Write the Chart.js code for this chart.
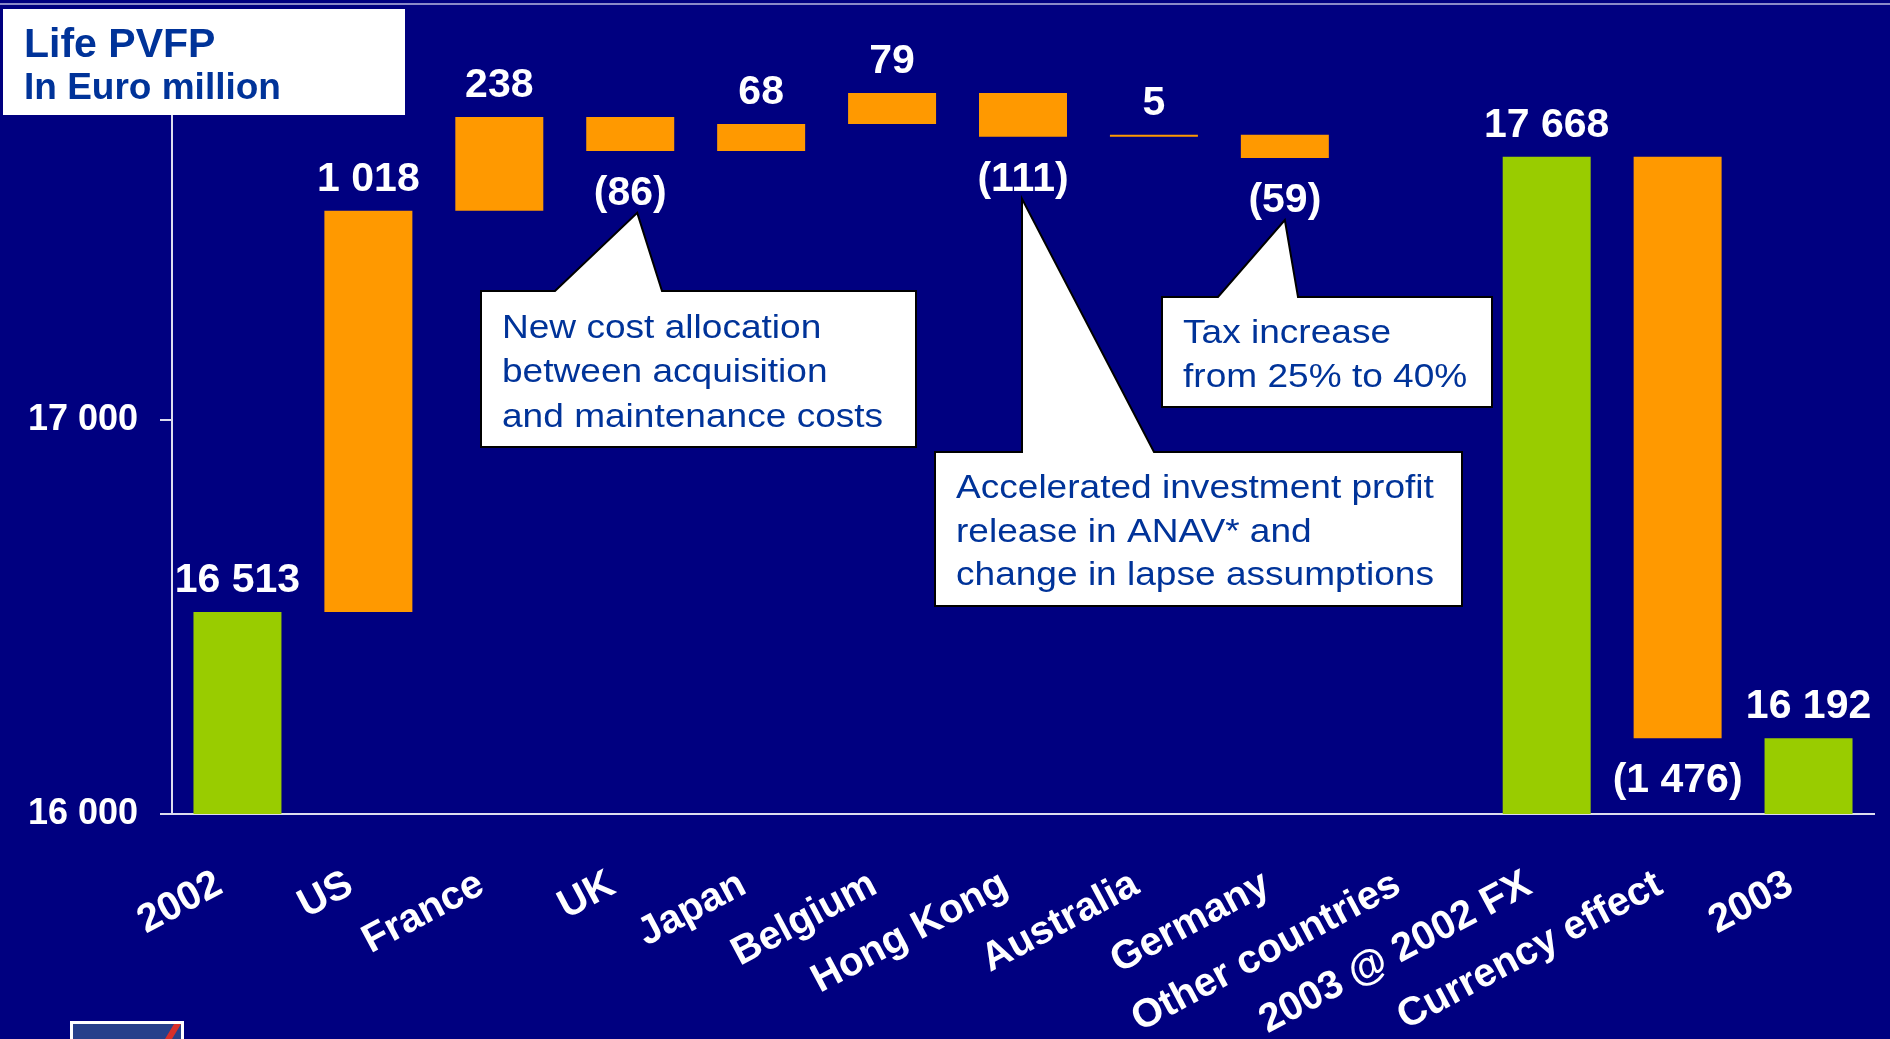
<!DOCTYPE html>
<html>
<head>
<meta charset="utf-8">
<script src="https://cdn.jsdelivr.net/npm/chart.js@4.4.0/dist/chart.umd.min.js"></script>
<style>
html,body{margin:0;padding:0;background:#000080;overflow:hidden}
#wrap{position:relative;width:1890px;height:1039px}
canvas{display:block}
</style>
</head>
<body>
<div id="wrap"><canvas id="c" width="1890" height="1039"></canvas></div>
<script>
// ---- data ----
const categories = ['2002','US','France','UK','Japan','Belgium','Hong Kong','Australia','Germany','Other countries','2003 @ 2002 FX','Currency effect','2003'];
const startValue = 16513;                                   // 2002
const countryDeltas = [1018, 238, -86, 68, 79, -111, 5, -59, 0]; // US .. Other countries (no visible bar)
const totalAt2002FX = 17668;                                 // 2003 @ 2002 FX
const currencyEffect = -1476;
const endValue = 16192;                                      // 2003
const valueLabels = ['16 513','1 018','238','(86)','68','79','(111)','5','(59)','','17 668','(1 476)','16 192'];
const yTickValues = [16000, 17000, 18000];
const titleLines = ['Life PVFP', 'In Euro million'];
const calloutTexts = [
  ['New cost allocation','between acquisition','and maintenance costs'],
  ['Accelerated investment profit','release in ANAV* and','change in lapse assumptions'],
  ['Tax increase','from 25% to 40%']
];

// ---- build the waterfall from the values ----
const yMin = yTickValues[0], yMax = yTickValues[yTickValues.length-1];
const bars = [], kinds = [];
bars.push([yMin, startValue]); kinds.push('total');
let run = startValue;
countryDeltas.forEach(d => { bars.push([run, run + d]); kinds.push(d < 0 ? 'neg' : 'pos'); run += d; });
bars.push([yMin, totalAt2002FX]); kinds.push('total');
bars.push([totalAt2002FX, totalAt2002FX + currencyEffect]); kinds.push('neg');
bars.push([yMin, endValue]); kinds.push('total');

const GREEN = '#99CC00', ORANGE = '#FF9900';
const AXIS = '#dcdcee';
const FONT = "'Liberation Sans', Arial, Helvetica, sans-serif";
const BLUE_TXT = '#003399';

function fmt(v){ return String(v).replace(/\B(?=(\d{3})+(?!\d))/g, ' '); }

const bgPlugin = {
  id: 'bg',
  beforeDraw(chart){
    const ctx = chart.ctx;
    ctx.save();
    ctx.fillStyle = '#000080';
    ctx.fillRect(0, 0, chart.width, chart.height);
    ctx.restore();
  }
};

const labelPlugin = {
  id: 'vlabels',
  afterDatasetsDraw(chart){
    const ctx = chart.ctx;
    const meta = chart.getDatasetMeta(0);
    ctx.save();
    ctx.fillStyle = '#ffffff';
    ctx.font = 'bold 41px ' + FONT;
    ctx.textAlign = 'center';
    ctx.textBaseline = 'alphabetic';
    meta.data.forEach((el, i) => {
      const t = valueLabels[i];
      if (!t) return;
      const top = Math.min(el.y, el.base), bottom = Math.max(el.y, el.base);
      if (kinds[i] === 'neg') ctx.fillText(t, el.x, bottom + 54);
      else ctx.fillText(t, el.x, top - 20);
    });
    ctx.restore();
  }
};

// callout boxes (annotation layout), pointers anchored to the bars
const callouts = [
  { bar: 3, dx: 7,  box: [481, 291, 435, 156], base: [555, 662],  tx: 502,  ty: [338, 382, 427] },
  { bar: 6, dx: -1, box: [935, 452, 527, 154], base: [1022, 1154], tx: 956, ty: [498, 542, 585] },
  { bar: 8, dx: 0,  box: [1162, 297, 330, 110], base: [1218, 1298], tx: 1183, ty: [343, 387] }
];

const overlayPlugin = {
  id: 'overlay',
  afterDraw(chart){
    const ctx = chart.ctx;
    const meta = chart.getDatasetMeta(0);
    ctx.save();
    // thin line at top
    ctx.strokeStyle = '#8a8ac8';
    ctx.lineWidth = 2;
    ctx.beginPath(); ctx.moveTo(0, 4); ctx.lineTo(chart.width, 4); ctx.stroke();

    // title box
    ctx.fillStyle = '#ffffff';
    ctx.fillRect(3, 9, 402, 106);
    ctx.fillStyle = BLUE_TXT;
    ctx.textAlign = 'left';
    ctx.textBaseline = 'alphabetic';
    ctx.font = 'bold 41px ' + FONT;
    ctx.fillText(titleLines[0], 24, 57);
    ctx.font = 'bold 37px ' + FONT;
    ctx.fillText(titleLines[1], 24, 99);

    // callouts
    callouts.forEach((c, k) => {
      const el = meta.data[c.bar];
      const bottom = Math.max(el.y, el.base);
      const ax = el.x + c.dx, ay = bottom + 62;
      const [bx, by, bw, bh] = c.box;
      ctx.beginPath();
      ctx.moveTo(bx, by);
      ctx.lineTo(c.base[0], by);
      ctx.lineTo(ax, ay);
      ctx.lineTo(c.base[1], by);
      ctx.lineTo(bx + bw, by);
      ctx.lineTo(bx + bw, by + bh);
      ctx.lineTo(bx, by + bh);
      ctx.closePath();
      ctx.fillStyle = '#ffffff';
      ctx.fill();
      ctx.strokeStyle = '#000000';
      ctx.lineWidth = 2;
      ctx.lineJoin = 'miter';
      ctx.stroke();
      ctx.fillStyle = BLUE_TXT;
      ctx.font = '34px ' + FONT;
      calloutTexts[k].forEach((line, j) => {
        ctx.save();
        ctx.translate(c.tx, c.ty[j]);
        ctx.scale(1.09, 1);
        ctx.fillText(line, 0, 0);
        ctx.restore();
      });
    });

    // logo fragment bottom-left
    ctx.fillStyle = '#27408b';
    ctx.fillRect(71, 1022, 112, 30);
    ctx.strokeStyle = '#ffffff';
    ctx.lineWidth = 3;
    ctx.strokeRect(71.5, 1022.5, 111, 30);
    ctx.fillStyle = '#d9302a';
    ctx.beginPath();
    ctx.moveTo(174, 1024); ctx.lineTo(181, 1024); ctx.lineTo(172, 1039); ctx.lineTo(165, 1039);
    ctx.closePath(); ctx.fill();
    ctx.restore();
  }
};

new Chart(document.getElementById('c'), {
  type: 'bar',
  data: {
    labels: categories,
    datasets: [{
      data: bars,
      backgroundColor: kinds.map(k => k === 'total' ? GREEN : ORANGE),
      borderWidth: 0,
      categoryPercentage: 1.0,
      barPercentage: 0.672
    }]
  },
  options: {
    responsive: false,
    animation: false,
    devicePixelRatio: 1,
    layout: { padding: { top: 26, right: 16, left: 0, bottom: 0 } },
    plugins: { legend: { display: false }, tooltip: { enabled: false }, title: { display: false } },
    scales: {
      x: {
        offset: true,
        grid: { display: false, drawTicks: false },
        border: { display: true, color: AXIS, width: 2 },
        ticks: {
          color: '#ffffff',
          font: { family: FONT, size: 40, weight: 'bold' },
          minRotation: 28, maxRotation: 28,
          autoSkip: false,
          padding: 47,
          labelOffset: -18
        },
        afterFit(s){ s.height = 225; s.paddingLeft = 0; s.paddingRight = 0; }
      },
      y: {
        min: yMin, max: yMax,
        afterBuildTicks(s){ s.ticks = yTickValues.map(v => ({ value: v })); },
        ticks: {
          color: '#ffffff',
          font: { family: FONT, size: 36, weight: 'bold' },
          padding: 22,
          callback: v => fmt(v)
        },
        grid: { drawOnChartArea: false, drawTicks: true, tickLength: 12, color: AXIS, lineWidth: 2 },
        border: { display: true, color: AXIS, width: 2 },
        afterFit(s){ s.width = 172; s.paddingTop = 0; s.paddingBottom = 0; }
      }
    }
  },
  plugins: [bgPlugin, labelPlugin, overlayPlugin]
});
</script>
</body>
</html>
